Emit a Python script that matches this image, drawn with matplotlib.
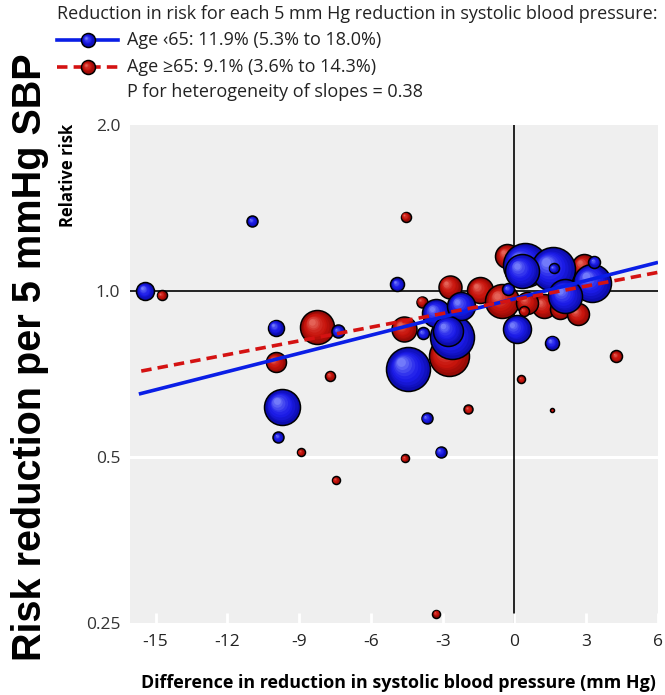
import numpy as np
import matplotlib
matplotlib.use("Agg")
import matplotlib.pyplot as plt
from matplotlib.transforms import offset_copy
from matplotlib.colors import to_rgb

# ---- trial data: difference in SBP reduction (mm Hg), relative risk, study weight ----
red_x = [-14.75, -8.24, -9.98, -7.71, -8.93, -7.47, -4.55, -3.88, -2.71, -4.62,
         -2.75, -1.42, -0.51, -0.30, 1.22, 0.53, 1.92, 2.66, 2.89, 0.39,
         0.29, 4.26, 1.59, -1.93, -4.59, -3.28]
red_y = [0.983, 0.859, 0.742, 0.702, 0.510, 0.454, 1.364, 0.957, 1.018, 0.855,
         0.762, 1.003, 0.959, 1.157, 0.939, 0.953, 0.927, 0.907, 1.110, 0.920,
         0.692, 0.761, 0.608, 0.610, 0.497, 0.260]
red_w = [5, 17, 10, 5, 4, 4, 5, 5.5, 11.5, 12.5,
         20, 13, 17, 12, 12, 11, 10, 11, 12, 5,
         4, 6, 2, 4.5, 4, 4]

blue_x = [-15.44, -10.96, -9.98, -7.37, -9.70, -9.88, -4.43, -4.90, -2.59, -3.27,
          -2.22, -2.78, -3.82, 0.10, 1.57, -0.27, 0.42, 1.60, 0.32, 3.24,
          2.13, 1.64, 3.34, -3.67, -3.09]
blue_y = [1.000, 1.339, 0.858, 0.845, 0.616, 0.543, 0.721, 1.028, 0.824, 0.911,
          0.939, 0.846, 0.838, 0.852, 0.806, 1.007, 1.115, 1.095, 1.087, 1.036,
          0.979, 1.099, 1.129, 0.588, 0.511]
blue_w = [9, 5.5, 8, 6.5, 18, 5.5, 22, 7, 22, 14,
          14, 15, 6, 14, 7, 6, 22, 22, 17, 19,
          17, 5, 6, 5.5, 5.5]

# meta-regression: relative risk reduction per 5 mm Hg and fitted RR at zero difference
age_groups = ["Age \u203965: 11.9% (5.3% to 18.0%)", "Age \u226565: 9.1% (3.6% to 14.3%)"]
rrr_per5 = [0.119, 0.091]
rr_at_zero = [0.968, 0.964]
fit_range = [(-15.7, 6.0), (-15.6, 6.0)]
p_het = 0.38

x_ticks = [-15, -12, -9, -6, -3, 0, 3, 6]
y_ticks = [0.25, 0.5, 1.0, 2.0]
y_ticklabels = ["0.25", "0.5", "1.0", "2.0"]

BLUE = ("#0c0cae", "#1c1ce8", "#8c96ff")
RED = ("#960a06", "#c8140c", "#ec7a6e")
LINE_BLUE = "#0a1ee6"
LINE_RED = "#d41212"

NARROW = ["Liberation Sans Narrow", "Open Sans", "DejaVu Sans"]

W, H = 665, 695
fig = plt.figure(figsize=(W / 100, H / 100), dpi=100)
fig.patch.set_facecolor("white")

ax = fig.add_axes([130 / W, 72 / H, 528 / W, 498 / H])
ax.set_facecolor("#efefef")
ax.set_yscale("log")
ax.set_xlim(-16.07, 6.0)
ax.set_ylim(0.25, 2.0)
for s in ax.spines.values():
    s.set_visible(False)

PX2PT = 0.72


def shade(colors, f):
    c0, c1, c2 = (np.array(to_rgb(c)) for c in colors)
    if f < 0.35:
        return tuple(c0 + (c1 - c0) * (f / 0.35))
    return tuple(c1 + (c2 - c1) * ((f - 0.35) / 0.65) ** 1.4)


def bubble(axis, x, y, r_pt, colors, z, lw=1.1, layers=9):
    axis.scatter([x], [y], s=(2 * r_pt) ** 2, color=[colors[0]],
                 edgecolors="black", linewidths=lw, zorder=z)
    for i in range(1, layers):
        f = i / layers
        rr = r_pt * (1 - 0.86 * f) - lw * 0.5
        if rr <= 0:
            break
        tr = offset_copy(axis.transData, fig=fig, x=-0.36 * r_pt * f,
                         y=0.36 * r_pt * f, units="points")
        axis.scatter([x], [y], s=(2 * rr) ** 2, color=[shade(colors, f)],
                     linewidths=0, transform=tr, zorder=z + i * 1e-4)


# reference lines
ax.axhline(1.0, color="black", lw=1.2, zorder=1)
ax.axvline(0.0, color="black", lw=1.2, zorder=1)
ax.axhline(0.5, color="white", lw=2.2, zorder=0.5)

z = 2.0
for x, y, w in zip(red_x, red_y, red_w):
    bubble(ax, x, y, w * PX2PT, RED, z)
    z += 0.001
for x, y, w in zip(blue_x, blue_y, blue_w):
    bubble(ax, x, y, w * PX2PT, BLUE, z)
    z += 0.001

# fitted lines on log scale
for k, (col, style) in enumerate([(LINE_BLUE, "-"), (LINE_RED, "--")]):
    slope = -np.log(1 - rrr_per5[k]) / 5.0
    xs = np.array(fit_range[k])
    ys = rr_at_zero[k] * np.exp(slope * xs)
    ln, = ax.plot(xs, ys, color=col, lw=2.6, ls=style, zorder=10 + k,
                  solid_capstyle="butt")
    if style == "--":
        ln.set_dashes((2.9, 1.7))

ax.set_xticks(x_ticks)
ax.set_xticklabels([str(t) for t in x_ticks], family=NARROW, fontsize=12.5,
                   color="#222222")
ax.set_yticks(y_ticks)
ax.set_yticklabels(y_ticklabels, family=NARROW, fontsize=12.5, color="#333333")
ax.yaxis.set_minor_locator(matplotlib.ticker.NullLocator())
ax.tick_params(axis="x", direction="in", length=7, width=2, color="white", pad=8)
ax.tick_params(axis="y", length=0, pad=7)

# overlay in pixel coordinates for titles and key
ov = fig.add_axes([0, 0, 1, 1], zorder=20)
ov.set_xlim(0, W)
ov.set_ylim(H, 0)
ov.axis("off")
ov.patch.set_alpha(0)

ov.text(398, 683, "Difference in reduction in systolic blood pressure (mm Hg)",
        ha="center", va="center", family=NARROW, fontsize=12.9, fontweight="bold")
ov.text(68, 175, "Relative risk", rotation=90, ha="center", va="center",
        family=NARROW, fontsize=12, fontweight="bold")
ov.text(30, 357, "Risk reduction per 5 mmHg SBP", rotation=90, ha="center",
        va="center", family=["Liberation Sans", "DejaVu Sans"], fontsize=28.5,
        fontweight="bold")

ov.text(57, 14, "Reduction in risk for each 5 mm Hg reduction in systolic blood pressure:",
        ha="left", va="center", family=NARROW, fontsize=13, color="#222222")
key_y = [40, 67]
for k, (col, style, cols) in enumerate([(LINE_BLUE, "-", BLUE), (LINE_RED, "--", RED)]):
    ln, = ov.plot([57, 118], [key_y[k], key_y[k]], color=col, lw=2.6, ls=style)
    if style == "--":
        ln.set_dashes((2.9, 1.7))
    bubble(ov, 88, key_y[k], 7 * PX2PT, cols, 30)
    ov.text(127, key_y[k], age_groups[k], ha="left", va="center", family=NARROW,
            fontsize=13, color="#222222")
ov.text(127, 92, f"P for heterogeneity of slopes = {p_het:.2f}", ha="left",
        va="center", family=NARROW, fontsize=13, color="#222222")

fig.savefig("out.png", dpi=100)
